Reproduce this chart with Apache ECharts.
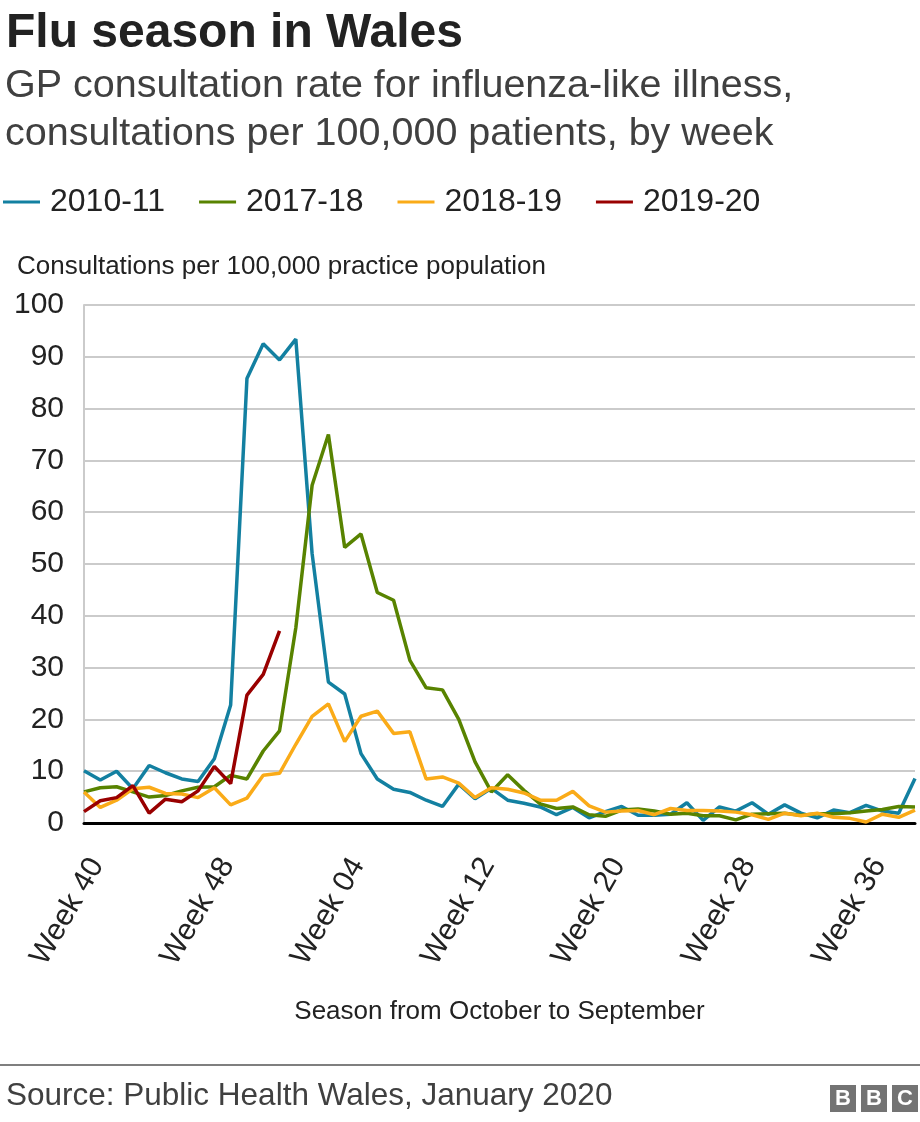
<!DOCTYPE html>
<html>
<head>
<meta charset="utf-8">
<script src="https://cdn.jsdelivr.net/npm/echarts@6/dist/echarts.min.js"></script>
<style>
html,body{margin:0;padding:0;background:#fff;}
#chart{width:920px;height:1122px;}
</style>
</head>
<body>
<div id="chart"></div>
<script>
const weeks = ['Week 40','Week 41','Week 42','Week 43','Week 44','Week 45','Week 46','Week 47','Week 48','Week 49','Week 50','Week 51','Week 52',
  'Week 01','Week 02','Week 03','Week 04','Week 05','Week 06','Week 07','Week 08','Week 09','Week 10','Week 11','Week 12','Week 13',
  'Week 14','Week 15','Week 16','Week 17','Week 18','Week 19','Week 20','Week 21','Week 22','Week 23','Week 24','Week 25','Week 26',
  'Week 27','Week 28','Week 29','Week 30','Week 31','Week 32','Week 33','Week 34','Week 35','Week 36','Week 37','Week 38','Week 39'];

const s2010_11 = [10.1,8.3,10.0,6.6,11.1,9.7,8.5,8.0,12.4,22.8,85.8,92.5,89.4,93.4,52.0,27.2,24.9,13.4,8.5,6.5,5.9,4.4,3.2,7.5,4.7,6.7,
  4.4,3.8,3.1,1.6,3.0,1.0,2.2,3.2,1.5,1.5,1.7,3.9,0.5,3.1,2.3,3.9,1.7,3.5,1.9,1.0,2.5,2.0,3.4,2.3,1.9,8.6];

const s2017_18 = [6.0,6.8,7.0,6.0,5.0,5.3,6.2,6.9,7.0,9.2,8.5,13.9,17.8,37.7,65.2,75.0,53.2,55.8,44.5,43.0,31.4,26.1,25.7,20.0,11.8,6.0,
  9.3,6.3,3.7,2.8,3.1,1.6,1.3,2.5,2.7,2.3,1.7,1.9,1.4,1.4,0.6,1.7,1.8,1.9,1.5,1.8,1.8,2.0,2.3,2.6,3.2,3.1];

const s2018_19 = [6.0,3.0,4.4,6.6,6.9,5.7,5.6,4.9,6.8,3.5,4.8,9.2,9.6,15.2,20.6,23.0,15.7,20.6,21.6,17.3,17.6,8.5,8.9,7.7,4.9,6.8,
  6.5,5.8,4.4,4.4,6.1,3.3,2.1,2.3,2.4,1.6,2.8,2.4,2.4,2.3,2.1,1.6,0.7,1.9,1.4,1.9,1.1,0.9,0.2,1.7,1.1,2.5];

const s2019_20 = [2.2,4.3,4.9,7.2,1.9,4.6,4.1,6.2,10.9,7.6,24.7,28.7,37.1];

const seriesNames = ['2010-11','2017-18','2018-19','2019-20'];
const seriesColors = ['#1380A1','#588300','#FAAB18','#990000'];
const yTicks = [0,10,20,30,40,50,60,70,80,90,100];

const FONT = '"Liberation Sans", Arial, Helvetica, sans-serif';
const chart = echarts.init(document.getElementById('chart'), null, {renderer:'canvas'});

const dataSets = [s2010_11, s2017_18, s2018_19, s2019_20];

chart.setOption({
  animation: false,
  backgroundColor: '#ffffff',
  title: [
    {text: 'Flu season in Wales', left: 1, top: 5,
     textStyle: {fontFamily: FONT, fontSize: 48, fontWeight: 'bold', color: '#222222', lineHeight: 48}},
    {text: 'GP consultation rate for influenza-like illness,\nconsultations per 100,000 patients, by week', left: 0, top: 57,
     textStyle: {fontFamily: FONT, fontSize: 39.5, fontWeight: 'normal', color: '#404040', lineHeight: 48}},
    {text: 'Consultations per 100,000 practice population', left: 12, top: 248,
     textStyle: {fontFamily: FONT, fontSize: 26, fontWeight: 'normal', color: '#222222', lineHeight: 28}},
    {text: 'Source: Public Health Wales, January 2020', left: 1, top: 1073,
     textStyle: {fontFamily: FONT, fontSize: 31.5, fontWeight: 'normal', color: '#404040', lineHeight: 36}}
  ],
  legend: {
    left: 3, top: 186, padding: 0,
    icon: 'rect', itemWidth: 37, itemHeight: 3, itemGap: 34,
    textStyle: {fontFamily: FONT, fontSize: 32, color: '#222222', padding: [0,0,0,5]},
    data: seriesNames
  },
  grid: {left: 84, right: 5, top: 305, bottom: 299, containLabel: false},
  xAxis: {
    type: 'category',
    data: weeks,
    boundaryGap: false,
    name: 'Season from October to September',
    nameLocation: 'middle',
    nameGap: 176,
    nameTextStyle: {fontFamily: FONT, fontSize: 26, color: '#222222'},
    axisLine: {show: true, onZero: true, lineStyle: {color: '#000000', width: 3}},
    axisTick: {show: false},
    axisLabel: {interval: 7, rotate: 60, fontFamily: FONT, fontSize: 30, color: '#222222', margin: 30, verticalAlign: 'top'},
    splitLine: {show: false}
  },
  yAxis: {
    type: 'value',
    min: yTicks[0], max: yTicks[yTicks.length-1], interval: 10,
    axisLine: {show: true, lineStyle: {color: '#cbcbcb', width: 2}},
    axisTick: {show: false},
    axisLabel: {fontFamily: FONT, fontSize: 30, color: '#222222', margin: 20},
    splitLine: {show: true, lineStyle: {color: '#cbcbcb', width: 2}}
  },
  series: seriesNames.map((n, i) => ({
    name: n,
    type: 'line',
    data: dataSets[i],
    symbol: 'none',
    lineStyle: {color: seriesColors[i], width: 3.5},
    itemStyle: {color: seriesColors[i]},
    z: 2 + i
  })),
  graphic: [
    {type: 'rect', left: 0, top: 1064, shape: {width: 920, height: 2}, style: {fill: '#7f7f7f'}},
    {type: 'group', right: 2, top: 1085, children: [
      {type: 'rect', shape: {x: 0, y: 0, width: 26, height: 27}, style: {fill: '#737373'}},
      {type: 'rect', shape: {x: 31, y: 0, width: 26, height: 27}, style: {fill: '#737373'}},
      {type: 'rect', shape: {x: 62, y: 0, width: 26, height: 27}, style: {fill: '#737373'}},
      {type: 'text', style: {x: 13, y: 14, text: 'B', fill: '#ffffff', font: 'bold 22px ' + FONT, textAlign: 'center', verticalAlign: 'middle'}},
      {type: 'text', style: {x: 44, y: 14, text: 'B', fill: '#ffffff', font: 'bold 22px ' + FONT, textAlign: 'center', verticalAlign: 'middle'}},
      {type: 'text', style: {x: 75, y: 14, text: 'C', fill: '#ffffff', font: 'bold 22px ' + FONT, textAlign: 'center', verticalAlign: 'middle'}}
    ]}
  ]
});
</script>
</body>
</html>
